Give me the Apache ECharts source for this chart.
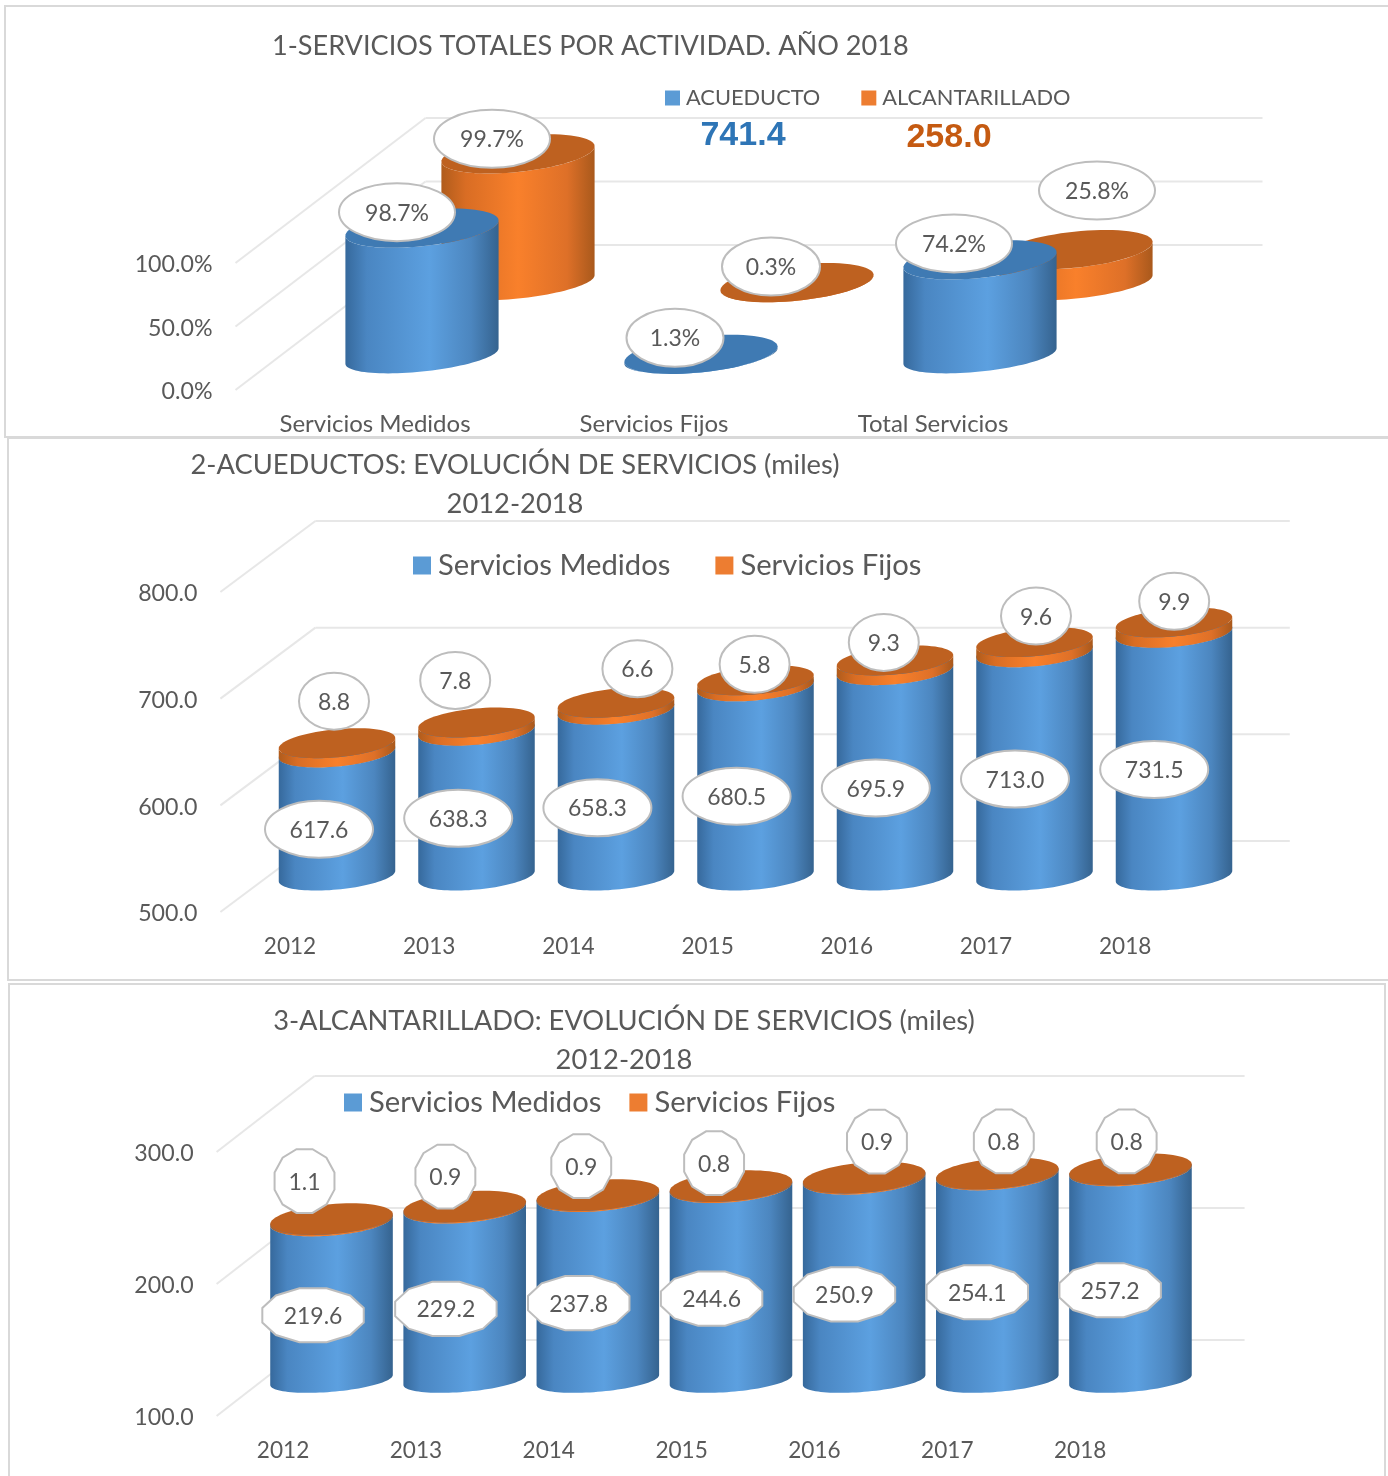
<!DOCTYPE html>
<html lang="es">
<head>
<meta charset="utf-8">
<title>Servicios</title>
<style>html,body{margin:0;padding:0;background:#fff}#c{width:1388px;height:1476px}</style>
<script src="https://cdn.jsdelivr.net/npm/echarts@6/dist/echarts.min.js"></script>
</head>
<body>
<div id="c"></div>
<script>
// ---------- data ----------
const RESUMEN_CATS = ['Servicios Medidos', 'Servicios Fijos', 'Total Servicios'];
const RESUMEN_ACUEDUCTO = [98.7, 1.3, 74.2];
const RESUMEN_ALCANTARILLADO = [99.7, 0.3, 25.8];
const TOTAL_ACUEDUCTO = '741.4';
const TOTAL_ALCANTARILLADO = '258.0';
const YEARS = ['2012', '2013', '2014', '2015', '2016', '2017', '2018'];
const ACU_MEDIDOS = [617.6, 638.3, 658.3, 680.5, 695.9, 713.0, 731.5];
const ACU_FIJOS = [8.8, 7.8, 6.6, 5.8, 9.3, 9.6, 9.9];
const ALC_MEDIDOS = [219.6, 229.2, 237.8, 244.6, 250.9, 254.1, 257.2];
const ALC_FIJOS = [1.1, 0.9, 0.9, 0.8, 0.9, 0.8, 0.8];
const TICKS_1 = [0, 50, 100];
const TICKS_2 = [500, 600, 700, 800];
const TICKS_3 = [100, 200, 300];

// ---------- label placement (pixels relative to each cylinder) ----------
const NUDGE_1A = [[-25, -16], [-26, -16.5], [-26, -16.5]];
const NUDGE_1B = [[-26, -15], [-26, -16], [21, -59]];
const RX_1A = [58, 48.5, 58];
const RX_1B = [58, 49, 58];
const NUDGE_2F = [[-3, -42], [-21, -42], [22, -34], [0, -16], [-10, -18], [3, -26], [2, -21]];
const NUDGE_3F = [[-27, -38], [-19, -30], [-16, -29], [-16, -23], [14, -36], [8, -32], [-2, -28]];

// ---------- style ----------
const FONT = 'Lato';
const TXT = '#595959';
const SEP = '#D9D9D9';
const GRIDLINE = '#E7E7E7';
const L = echarts.graphic.LinearGradient;
const BLUE_SIDE = () => new L(0, 0, 1, 0, [
  { offset: 0, color: '#36699C' }, { offset: 0.14, color: '#4A86C2' }, { offset: 0.55, color: '#5CA0E0' },
  { offset: 0.82, color: '#4C86BF' }, { offset: 1, color: '#35638F' }]);
const ORANGE_SIDE = () => new L(0, 0, 1, 0, [
  { offset: 0, color: '#B05C1C' }, { offset: 0.16, color: '#D96D24' }, { offset: 0.5, color: '#F9802B' },
  { offset: 0.82, color: '#DE7028' }, { offset: 1, color: '#A9591C' }]);
const BLUE_TOP = '#3F7AB3';
const ORANGE_TOP = '#BE6120';

function arc(cx, cy, rx, ry, a, t0, t1, n) {
  const pts = [], ca = Math.cos(a), sa = Math.sin(a);
  for (let j = 0; j <= n; j++) {
    const t = t0 + (t1 - t0) * j / n, ex = rx * Math.cos(t), ey = ry * Math.sin(t);
    pts.push([cx + ex * ca - ey * sa, cy + ex * sa + ey * ca]);
  }
  return pts;
}
// geometry of one depth row: how far a cylinder is pushed from the front plane
function place(api, i, v, g) {
  const p0 = api.coord([i, g.min]), p = api.coord([i, v]);
  return [p0[0] + g.dx, p0[1] - g.lift - (p0[1] - p[1]) * g.k];
}
function cylinder(g, sideFn, topColor, ryLow) {
  return function (params, api) {
    const i = api.value(0), start = api.value(2), end = start + api.value(1);
    const pt = place(api, i, end, g), x = pt[0] + i * g.sx, yTop = pt[1];
    const yBot = place(api, i, start, g)[1];
    const rBot = ryLow === undefined ? g.ryBot : ryLow;
    const tTop = Math.atan2(-g.ryTop * Math.sin(g.a), g.rx * Math.cos(g.a));
    const tBot = Math.atan2(-rBot * Math.sin(g.a), g.rx * Math.cos(g.a));
    const a1 = arc(x, yBot, g.rx, rBot, g.a, tBot, tBot + Math.PI, 48);
    const a2 = arc(x, yTop, g.rx, g.ryTop, g.a, tTop + Math.PI, tTop, 48);
    return {
      type: 'group',
      children: [
        { type: 'polygon', shape: { points: a1.concat(a2) }, style: { fill: sideFn() } },
        { type: 'polygon', shape: { points: arc(x, yTop, g.rx, g.ryTop, g.a, 0, Math.PI * 2, 72) }, style: { fill: topColor } }
      ]
    };
  };
}
function bubble(g, spec) {
  return function (params, api) {
    const k = params.dataIndex, i = api.value(0), start = api.value(2), val = api.value(1);
    const [x, yTop] = place(api, i, start + val, g);
    const yBot = place(api, i, start, g)[1];
    const n = spec.nudge ? spec.nudge[k] : spec.offset;
    const anchorY = spec.mid ? (yTop + yBot) / 2 : yTop;
    const cx = x + n[0], cy = anchorY + n[1];
    const rx = spec.rx[k] || spec.rx, ry = spec.ry;
    const text = spec.format(val);
    const style = { fill: '#fff', stroke: '#BDBDBD', lineWidth: 2 };
    const outline = spec.sides
      ? { type: 'polygon', shape: { points: arc(cx, cy, rx, ry, 0, Math.PI / spec.sides, Math.PI * 2 + Math.PI / spec.sides, spec.sides).slice(0, spec.sides) }, style }
      : { type: 'ellipse', shape: { cx, cy, rx, ry }, style };
    return {
      type: 'group',
      children: [outline, {
        type: 'text', x: cx, y: cy + 1,
        style: { text, align: 'center', verticalAlign: 'middle', fill: TXT, font: spec.size + 'px ' + FONT }
      }]
    };
  };
}
function gridWall(depthX, depthY) {
  return function (params, api) {
    const cs = params.coordSys, y = api.coord([0, api.value(1)])[1];
    const x0 = cs.x, line = (a, b, c, d) => ({
      type: 'line', shape: { x1: a, y1: b, x2: c, y2: d },
      style: { stroke: GRIDLINE, lineWidth: 2 }
    });
    return {
      type: 'group',
      children: [
        line(x0, y, x0 + depthX, y - depthY),
        line(x0 + depthX, y - depthY, cs.x + cs.width + depthX, y - depthY)
      ]
    };
  };
}

function axes(idx, cats, min, max, interval, yfmt, xSize, xMargin) {
  return {
    x: {
      type: 'category', gridIndex: idx, data: cats,
      axisLine: { show: false }, axisTick: { show: false },
      axisLabel: { color: TXT, fontFamily: FONT, fontSize: xSize, margin: xMargin, interval: 0 }
    },
    y: {
      type: 'value', gridIndex: idx, min, max, interval,
      axisLine: { show: false }, axisTick: { show: false }, splitLine: { show: false },
      axisLabel: {
        margin: 23, formatter: v => '{t|' + yfmt(v) + '}',
        rich: { t: { color: TXT, fontFamily: FONT, fontSize: 23.2, padding: [4, 0, 0, 0] } }
      }
    }
  };
}
const A1 = axes(0, RESUMEN_CATS, 0, 100, 50, v => v.toFixed(1) + '%', 24, 22);
const A2 = axes(1, YEARS, 500, 800, 100, v => v.toFixed(1), 22.6, 23);
const A3 = axes(2, YEARS, 100, 300, 100, v => v.toFixed(1), 22.6, 23);

const G1A = { min: 0, dx: 47, sx: 0, lift: 34, k: 1.02, rx: 77, ryTop: 18, ryBot: 15.5, a: -0.105 };
const G1B = { min: 0, dx: 143, sx: 0, lift: 107, k: 1.02, rx: 77, ryTop: 18, ryBot: 15.5, a: -0.105 };
const G2 = { min: 500, dx: 47, sx: 0.3, lift: 36, k: 0.985, rx: 58.5, ryTop: 14, ryBot: 13.5, a: -0.095 };
const G3 = { min: 100, dx: 48.5, sx: 0.3, lift: 36, k: 1.01, rx: 61.5, ryTop: 15, ryBot: 11.8, a: -0.085 };

const rows = (vals, starts) => vals.map((v, i) => [i, v, starts ? starts[i] : 0]);
const custom = (name, gi, z, renderItem, data, color) => ({
  type: 'custom', name, xAxisIndex: gi, yAxisIndex: gi, z, renderItem, data, silent: true,
  encode: { x: 0, y: 1 }, clip: false, animation: false,
  itemStyle: color ? { color } : undefined
});
const wall = (gi, ticks, dx, dy) => custom('wall' + gi, gi, 1, gridWall(dx, dy), ticks.map(t => [0, t]));
const f1 = v => v.toFixed(1);
const pct = v => v.toFixed(1) + '%';

const series = [
  wall(0, TICKS_1, 190, 145),
  custom('ALCANTARILLADO', 0, 2, cylinder(G1B, ORANGE_SIDE, ORANGE_TOP), rows(RESUMEN_ALCANTARILLADO), '#ED7D31'),
  custom('ACUEDUCTO', 0, 3, cylinder(G1A, BLUE_SIDE, BLUE_TOP), rows(RESUMEN_ACUEDUCTO), '#5B9BD5'),
  custom('l1b', 0, 4, bubble(G1B, { nudge: NUDGE_1B, rx: RX_1B, ry: 29, size: 23, format: pct }), rows(RESUMEN_ALCANTARILLADO)),
  custom('l1a', 0, 4, bubble(G1A, { nudge: NUDGE_1A, rx: RX_1A, ry: 29, size: 23, format: pct }), rows(RESUMEN_ACUEDUCTO)),

  wall(1, TICKS_2, 95, 71),
  custom('Servicios Medidos', 1, 2, cylinder(G2, BLUE_SIDE, BLUE_TOP), rows(ACU_MEDIDOS.map(v => v - G2.min), ACU_MEDIDOS.map(() => G2.min)), '#5B9BD5'),
  custom('Servicios Fijos', 1, 3, cylinder(G2, ORANGE_SIDE, ORANGE_TOP, G2.ryTop), rows(ACU_FIJOS, ACU_MEDIDOS), '#ED7D31'),
  custom('l2m', 1, 4, bubble(G2, { offset: [-18, 15], mid: true, rx: 54, ry: 28.5, size: 23, format: v => (v + G2.min).toFixed(1) }), rows(ACU_MEDIDOS.map(v => v - G2.min), ACU_MEDIDOS.map(() => G2.min))),
  custom('l2f', 1, 4, bubble(G2, { nudge: NUDGE_2F, rx: 35, ry: 28.5, size: 23, format: f1 }), rows(ACU_FIJOS, ACU_MEDIDOS)),

  wall(2, TICKS_3, 98, 76),
  custom('Servicios Medidos', 2, 2, cylinder(G3, BLUE_SIDE, BLUE_TOP), rows(ALC_MEDIDOS.map(v => v - G3.min), ALC_MEDIDOS.map(() => G3.min)), '#5B9BD5'),
  custom('Servicios Fijos', 2, 3, cylinder(G3, ORANGE_SIDE, ORANGE_TOP, G3.ryTop), rows(ALC_FIJOS, ALC_MEDIDOS), '#ED7D31'),
  custom('l3m', 2, 4, bubble(G3, { offset: [-18.5, 15], mid: true, rx: 52.5, ry: 28, sides: 12, size: 23, format: v => (v + G3.min).toFixed(1) }), rows(ALC_MEDIDOS.map(v => v - G3.min), ALC_MEDIDOS.map(() => G3.min))),
  custom('l3f', 2, 4, bubble(G3, { nudge: NUDGE_3F, rx: 31, ry: 33, sides: 12, size: 23, format: f1 }), rows(ALC_FIJOS, ALC_MEDIDOS))
];

const titleStyle = { color: TXT, fontFamily: FONT, fontSize: 27.3, fontWeight: 'normal', lineHeight: 39 };
const totalStyle = color => ({ color, fontFamily: 'Liberation Sans', fontWeight: 'bold', fontSize: 34 });
const legend = (names, left, top, size, iconSize, gap, textPad) => ({
  data: names, left, top, icon: 'rect', itemWidth: iconSize, itemHeight: iconSize, itemGap: gap,
  selectedMode: false, padding: 0,
  textStyle: { color: TXT, fontFamily: FONT, fontSize: size, padding: [0, 0, 0, textPad] }
});
const frame = (x, y, w, h) => ({
  type: 'rect', silent: true, shape: { x, y, width: w, height: h },
  style: { fill: 'transparent', stroke: SEP, lineWidth: 2 }
});

const chart = echarts.init(document.getElementById('c'), null, { renderer: 'canvas', width: 1388, height: 1476 });
chart.setOption({
  animation: false,
  backgroundColor: '#fff',
  title: [
    { text: '1-SERVICIOS TOTALES POR ACTIVIDAD. AÑO 2018', left: 272, top: 27, padding: 0, textStyle: Object.assign({}, titleStyle, { fontSize: 27.1 }) },
    { text: '2-ACUEDUCTOS: EVOLUCIÓN DE SERVICIOS (miles)\n2012-2018', left: 515, top: 446, padding: 0, textAlign: 'center', textStyle: titleStyle },
    { text: '3-ALCANTARILLADO: EVOLUCIÓN DE SERVICIOS (miles)\n2012-2018', left: 624, top: 1002, padding: 0, textAlign: 'center', textStyle: titleStyle },
    { text: TOTAL_ACUEDUCTO, left: 743, top: 119, padding: 0, textAlign: 'center', textStyle: totalStyle('#2E75B6') },
    { text: TOTAL_ALCANTARILLADO, left: 949, top: 121, padding: 0, textAlign: 'center', textStyle: totalStyle('#C55A11') }
  ],
  legend: [
    legend(['ACUEDUCTO', 'ALCANTARILLADO'], 665, 87, 21.8, 15, 41, 1),
    legend(['Servicios Medidos', 'Servicios Fijos'], 413, 551, 29.2, 18, 45, 2),
    legend(['Servicios Medidos', 'Servicios Fijos'], 344, 1088, 29.2, 18, 28, 2)
  ],
  grid: [
    { left: 235.5, width: 837, top: 263, height: 127 },
    { left: 220.4, width: 974.4, top: 592, height: 320 },
    { left: 216.6, width: 930, top: 1152, height: 264 }
  ],
  xAxis: [A1.x, A2.x, A3.x],
  yAxis: [A1.y, A2.y, A3.y],
  series,
  graphic: [
    frame(5, 6, 1400, 431),
    frame(8, 438, 1400, 542),
    frame(9, 984, 1376, 520)
  ]
});
</script>
</body>
</html>
